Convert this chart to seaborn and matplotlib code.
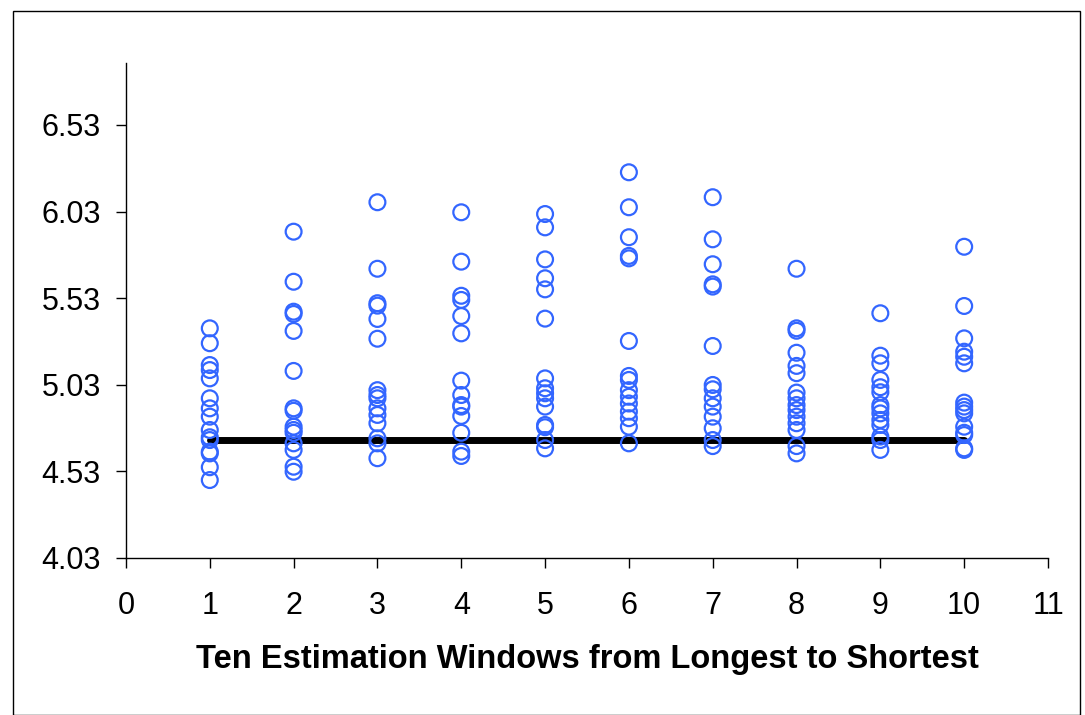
import numpy as np
import pandas as pd
import matplotlib
matplotlib.use("Agg")
import matplotlib.pyplot as plt
import seaborn as sns
from matplotlib.patches import Rectangle

# values, one list per estimation window
w1 = [5.356, 5.270, 5.144, 5.115, 5.067, 4.952, 4.894, 4.846, 4.769, 4.727, 4.711, 4.644, 4.634, 4.554, 4.480]
w2 = [5.914, 5.625, 5.452, 5.439, 5.341, 5.110, 4.894, 4.880, 4.788, 4.769, 4.753, 4.692, 4.654, 4.557, 4.528]
w3 = [6.084, 5.700, 5.501, 5.487, 5.410, 5.296, 4.999, 4.971, 4.952, 4.894, 4.856, 4.808, 4.721, 4.692, 4.606]
w4 = [6.026, 5.741, 5.544, 5.520, 5.427, 5.327, 5.054, 4.971, 4.913, 4.904, 4.850, 4.753, 4.644, 4.619]
w5 = [6.016, 5.939, 5.754, 5.645, 5.581, 5.412, 5.067, 5.010, 4.981, 4.952, 4.904, 4.798, 4.785, 4.711, 4.663]
w6 = [6.257, 6.055, 5.882, 5.774, 5.760, 5.283, 5.081, 5.058, 4.999, 4.961, 4.922, 4.875, 4.837, 4.788, 4.692]
w7 = [6.113, 5.870, 5.726, 5.610, 5.597, 5.254, 5.029, 5.004, 4.952, 4.904, 4.846, 4.779, 4.711, 4.676]
w8 = [5.700, 5.356, 5.342, 5.215, 5.139, 5.097, 4.985, 4.952, 4.913, 4.884, 4.846, 4.808, 4.769, 4.676, 4.634]
w9 = [5.443, 5.198, 5.154, 5.058, 5.016, 4.987, 4.913, 4.894, 4.865, 4.827, 4.798, 4.731, 4.711, 4.654]
w10 = [5.827, 5.485, 5.298, 5.221, 5.192, 5.154, 4.927, 4.904, 4.884, 4.865, 4.788, 4.753, 4.740, 4.663, 4.654]

windows = [w1, w2, w3, w4, w5, w6, w7, w8, w9, w10]
ref_x = [1, 10]
ref_y = [4.71, 4.71]
y_ticks = [4.03, 4.53, 5.03, 5.53, 6.03, 6.53]
x_ticks = list(range(0, 12))

rows = []
for i, vals in enumerate(windows):
    for v in vals:
        rows.append({"window": i + 1, "value": v})
df = pd.DataFrame(rows)

sns.set_style("white")
plt.rcParams["font.family"] = ["Liberation Sans", "DejaVu Sans"]
plt.rcParams["text.color"] = "black"
plt.rcParams["axes.labelcolor"] = "black"
plt.rcParams["xtick.color"] = "black"
plt.rcParams["ytick.color"] = "black"

fig = plt.figure(figsize=(10.85, 7.15), dpi=100)
ax = fig.add_axes([0.1161, 0.2196, 0.8498, 0.6923])

sns.lineplot(x=ref_x, y=ref_y, color="black", linewidth=5, ax=ax, zorder=2)
sns.scatterplot(data=df, x="window", y="value", marker="o", s=130,
                facecolors="none", edgecolor="#3366ff", linewidth=1.6,
                ax=ax, zorder=3)

ax.set_xlim(0, 11)
ax.set_ylim(4.03, 6.888)
ax.set_xticks(x_ticks)
ax.set_yticks(y_ticks)
ax.set_yticklabels([f"{t:.2f}" for t in y_ticks])
ax.tick_params(axis="both", labelsize=22, length=7, width=1,
               direction="out", left=True, bottom=True)
ax.tick_params(axis="x", pad=17)
ax.tick_params(axis="y", pad=11)
ax.set_xlabel("Ten Estimation Windows from Longest to Shortest",
              fontsize=23.5, fontweight="bold", labelpad=16)
ax.set_ylabel("")
sns.despine(ax=ax)
for s in ["left", "bottom"]:
    ax.spines[s].set_color("black")
    ax.spines[s].set_linewidth(1)

# outer frame of the chart area
fig.patches.append(Rectangle((0.012, 0.0), 0.983, 0.985, transform=fig.transFigure,
                             fill=False, edgecolor="black", linewidth=1))

fig.savefig("out.png", dpi=100)
